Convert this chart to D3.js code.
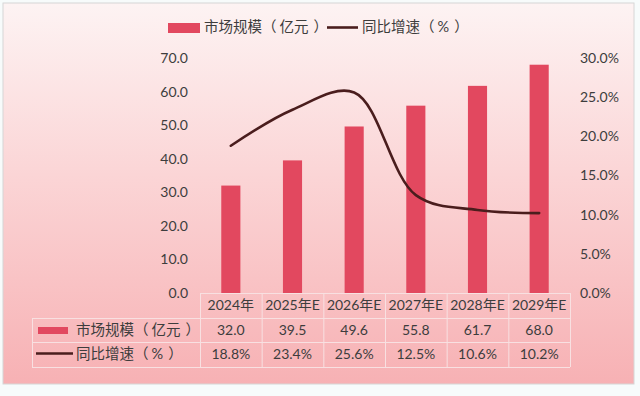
<!DOCTYPE html>
<html><head><meta charset="utf-8">
<script src="https://cdn.jsdelivr.net/npm/d3@7"></script>
<style>
html,body{margin:0;padding:0;background:#f7fbfb;}
svg{display:block;}
text{font-family:Lato,"Noto Sans CJK SC",sans-serif;fill:#3d3d3d;}
</style></head>
<body><svg id="c" width="640" height="396"></svg>
<script>
const categories = ["2024年","2025年E","2026年E","2027年E","2028年E","2029年E"];
const marketSize = [32.0, 39.5, 49.6, 55.8, 61.7, 68.0];
const growth = [18.8, 23.4, 25.6, 12.5, 10.6, 10.2];
const leftTicks = [0,10,20,30,40,50,60,70];
const rightTicks = [0,5,10,15,20,25,30];
const seriesNames = ["市场规模（亿元）","同比增速（%）"];

const svg = d3.select("#c");
const defs = svg.append("defs");
const g = defs.append("linearGradient").attr("id","bg").attr("x1",0).attr("y1",0).attr("x2",0).attr("y2",1);
g.append("stop").attr("offset","0%").attr("stop-color","#fdf3f3");
g.append("stop").attr("offset","45%").attr("stop-color","#fbd5d6");
g.append("stop").attr("offset","100%").attr("stop-color","#f7b1b4");

svg.append("rect").attr("x",3).attr("y",3).attr("width",631).attr("height",381)
  .attr("fill","url(#bg)").attr("stroke","#d6d6d6").attr("stroke-width",1);

const x0 = 200, x1 = 570, yTop = 58, yBot = 293;
const x = d3.scaleBand().domain(categories).range([x0,x1]).padding(0);
const yL = d3.scaleLinear().domain([0,70]).range([yBot,yTop]);
const yR = d3.scaleLinear().domain([0,30]).range([yBot,yTop]);

const barColor = "#e2485f", lineColor = "#4a1d1d";

// left axis
const axL = svg.append("g").attr("transform",`translate(${x0},0)`)
  .call(d3.axisLeft(yL).tickValues(leftTicks).tickFormat(d3.format(".1f")).tickSize(0).tickPadding(12));
axL.select(".domain").remove();
axL.selectAll("text").style("font-size","14px").style("fill","#3d3d3d").style("font-family","Lato,'Noto Sans CJK SC',sans-serif");

// right axis
const axR = svg.append("g").attr("transform",`translate(${x1},0)`)
  .call(d3.axisRight(yR).tickValues(rightTicks).tickFormat(d=>d3.format(".1f")(d)+"%").tickSize(0).tickPadding(10));
axR.select(".domain").remove();
axR.selectAll("text").style("font-size","14px").style("fill","#3d3d3d").style("font-family","Lato,'Noto Sans CJK SC',sans-serif");

// bars
const bw = x.bandwidth()*0.31;
svg.append("g").selectAll("rect").data(marketSize).join("rect")
  .attr("x",(d,i)=>x(categories[i])+x.bandwidth()/2-bw/2)
  .attr("y",d=>yL(d)).attr("width",bw).attr("height",d=>yL(0)-yL(d))
  .attr("fill",barColor);

// line
const line = d3.line().x((d,i)=>x(categories[i])+x.bandwidth()/2).y(d=>yR(d)).curve(d3.curveCatmullRom.alpha(0.5));
svg.append("path").datum(growth).attr("d",line).attr("fill","none")
  .attr("stroke",lineColor).attr("stroke-width",2.6).attr("stroke-linecap","round");

// data table
const rows = [293, 318, 342, 367];
const tbl = svg.append("g").attr("stroke","#f8e0e1").attr("stroke-width",1).attr("fill","none");
tbl.append("line").attr("x1",x0).attr("x2",x1).attr("y1",rows[0]+0.5).attr("y2",rows[0]+0.5);
[1,2,3].forEach(r=>tbl.append("line").attr("x1",32).attr("x2",x1).attr("y1",rows[r]+0.5).attr("y2",rows[r]+0.5));
tbl.append("line").attr("x1",32.5).attr("x2",32.5).attr("y1",rows[1]).attr("y2",rows[3]);
categories.forEach((c,i)=>{
  const xx = x(c);
  tbl.append("line").attr("x1",xx+0.5).attr("x2",xx+0.5).attr("y1",rows[0]).attr("y2",rows[3]);
});
tbl.append("line").attr("x1",x1+0.5).attr("x2",x1+0.5).attr("y1",rows[0]).attr("y2",rows[3]);

const cx = c => x(c)+x.bandwidth()/2;
svg.append("g").selectAll("text").data(categories).join("text")
  .attr("x",d=>cx(d)).attr("y",(rows[0]+rows[1])/2+1).attr("text-anchor","middle")
  .attr("dominant-baseline","middle").style("font-size","14px").text(d=>d);
svg.append("g").selectAll("text").data(marketSize).join("text")
  .attr("x",(d,i)=>cx(categories[i])).attr("y",(rows[1]+rows[2])/2+1).attr("text-anchor","middle")
  .attr("dominant-baseline","middle").style("font-size","14px").text(d=>d3.format(".1f")(d));
svg.append("g").selectAll("text").data(growth).join("text")
  .attr("x",(d,i)=>cx(categories[i])).attr("y",(rows[2]+rows[3])/2+1).attr("text-anchor","middle")
  .attr("dominant-baseline","middle").style("font-size","14px").text(d=>d3.format(".1f")(d)+"%");

// label with spaced full-width parentheses (as rendered in the reference)
function label(xp, yp, str){
  const t = svg.append("text").attr("x",xp).attr("y",yp).attr("dominant-baseline","middle").style("font-size","14.5px");
  const i1 = str.indexOf("（"), i2 = str.indexOf("）");
  t.append("tspan").text(str.slice(0,i1));
  t.append("tspan").text("（");
  t.append("tspan").attr("dx",3).text(str.slice(i1+1,i2));
  t.append("tspan").attr("dx",5).text("）");
  return t;
}

// table legend keys
svg.append("rect").attr("x",38).attr("y",327).attr("width",30).attr("height",7).attr("fill",barColor);
label(76,331,seriesNames[0]);
svg.append("line").attr("x1",36).attr("x2",73).attr("y1",353.5).attr("y2",353.5).attr("stroke",lineColor).attr("stroke-width",2.6);
label(76,355,seriesNames[1]);

// top legend
svg.append("rect").attr("x",168).attr("y",23).attr("width",32).attr("height",10).attr("fill",barColor);
label(204,28,seriesNames[0]);
svg.append("line").attr("x1",327).attr("x2",358).attr("y1",27.5).attr("y2",27.5).attr("stroke",lineColor).attr("stroke-width",2.6);
label(362,28,seriesNames[1]);
</script></body></html>
